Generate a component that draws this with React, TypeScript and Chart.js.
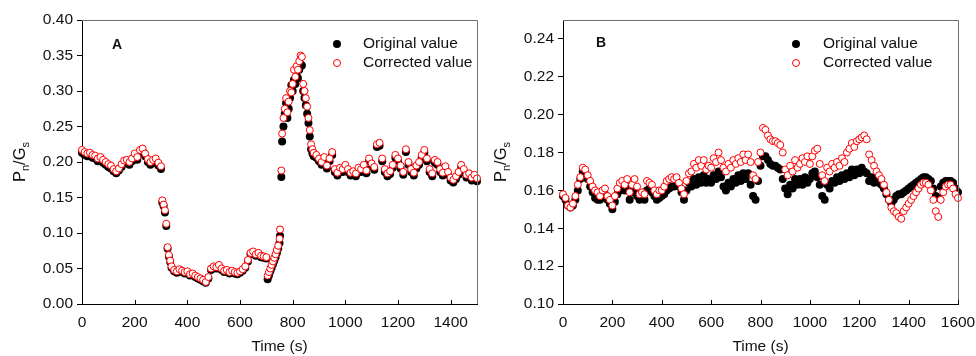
import React, { useEffect, useRef } from 'react';
import { Chart, registerables } from 'chart.js';

Chart.register(...registerables);

const FONT = '"Liberation Sans", Arial, Helvetica, sans-serif';
const TEXT = '#111';

// ---------- Panel A data ----------
const timeA = [
  0, 10, 20, 30, 40, 50, 60, 70, 80, 90,
  100, 110, 120, 130, 140, 150, 160, 170, 180, 190,
  200, 210, 220, 230, 240, 250, 260, 270, 280, 290,
  300, 305, 310, 315, 320, 325, 330, 335, 340, 350,
  360, 370, 380, 390, 400, 410, 420, 430, 440, 450,
  460, 470, 480, 490, 500, 510, 520, 530, 540, 550,
  560, 570, 580, 590, 600, 610, 620, 630, 640, 650,
  660, 670, 680, 690, 700, 705, 710, 715, 720, 725,
  730, 735, 740, 745, 750, 752, 757, 760, 765, 770,
  775, 780, 785, 790, 795, 800, 805, 810, 815, 820,
  825, 830, 835, 840, 845, 850, 855, 860, 865, 870,
  875, 880, 890, 900, 910, 920, 930, 940, 950, 960,
  970, 980, 990, 1000, 1010, 1020, 1030, 1040, 1050, 1060,
  1070, 1080, 1090, 1100, 1110, 1120, 1130, 1140, 1150, 1160,
  1170, 1180, 1190, 1200, 1210, 1220, 1230, 1240, 1250, 1260,
  1270, 1280, 1290, 1300, 1310, 1320, 1330, 1340, 1350, 1360,
  1370, 1380, 1390, 1400, 1410, 1420, 1430, 1440, 1450, 1460,
  1470, 1480, 1490, 1500,
];

const originalA = [
  0.213, 0.210, 0.208, 0.209, 0.206, 0.205, 0.201, 0.203, 0.199, 0.196,
  0.193, 0.191, 0.187, 0.184, 0.188, 0.193, 0.198, 0.199, 0.196, 0.201,
  0.208, 0.203, 0.213, 0.215, 0.208, 0.200, 0.196, 0.199, 0.201, 0.195,
  0.190, 0.143, 0.138, 0.129, 0.110, 0.078, 0.067, 0.059, 0.051, 0.046,
  0.044, 0.047, 0.045, 0.043, 0.044, 0.040, 0.041, 0.038, 0.036, 0.034,
  0.032, 0.030, 0.036, 0.048, 0.051, 0.050, 0.053, 0.048, 0.045, 0.046,
  0.043, 0.045, 0.043, 0.042, 0.044, 0.047, 0.051, 0.060, 0.070, 0.072,
  0.068, 0.070, 0.066, 0.065, 0.064, 0.035, 0.040, 0.046, 0.051, 0.056,
  0.061, 0.066, 0.072, 0.078, 0.086, 0.096, 0.179, 0.229, 0.250, 0.268,
  0.283, 0.262, 0.275, 0.290, 0.308, 0.300, 0.316, 0.310, 0.322, 0.318,
  0.330, 0.338, 0.336, 0.300, 0.290, 0.280, 0.268, 0.255, 0.236, 0.218,
  0.212, 0.208, 0.206, 0.201, 0.196, 0.203, 0.191, 0.201, 0.210, 0.186,
  0.181, 0.188, 0.186, 0.192, 0.186, 0.181, 0.183, 0.180, 0.188, 0.186,
  0.192, 0.184, 0.201, 0.194, 0.189, 0.221, 0.223, 0.201, 0.186, 0.180,
  0.183, 0.192, 0.206, 0.201, 0.191, 0.182, 0.214, 0.196, 0.186, 0.181,
  0.191, 0.196, 0.206, 0.213, 0.201, 0.186, 0.180, 0.199, 0.196, 0.186,
  0.181, 0.190, 0.182, 0.174, 0.171, 0.176, 0.182, 0.192, 0.186, 0.178,
  0.180, 0.174, 0.178, 0.173,
];

const correctedA = [
  0.217, 0.214, 0.212, 0.213, 0.210, 0.209, 0.205, 0.207, 0.203, 0.200,
  0.197, 0.195, 0.190, 0.187, 0.191, 0.197, 0.202, 0.203, 0.200, 0.205,
  0.212, 0.207, 0.217, 0.219, 0.212, 0.204, 0.200, 0.203, 0.205, 0.199,
  0.194, 0.146, 0.140, 0.132, 0.113, 0.080, 0.069, 0.061, 0.053, 0.048,
  0.046, 0.049, 0.047, 0.045, 0.046, 0.042, 0.043, 0.040, 0.038, 0.036,
  0.034, 0.031, 0.038, 0.050, 0.053, 0.052, 0.055, 0.050, 0.047, 0.048,
  0.045, 0.047, 0.045, 0.044, 0.046, 0.049, 0.053, 0.062, 0.072, 0.074,
  0.070, 0.072, 0.068, 0.067, 0.066, 0.040, 0.045, 0.050, 0.055, 0.060,
  0.065, 0.070, 0.076, 0.082, 0.092, 0.105, 0.188, 0.240, 0.262, 0.275,
  0.290, 0.270, 0.285, 0.300, 0.298, 0.310, 0.330, 0.320, 0.335, 0.330,
  0.342, 0.350, 0.348, 0.310, 0.300, 0.290, 0.278, 0.262, 0.245, 0.225,
  0.218, 0.213, 0.210, 0.205, 0.200, 0.207, 0.195, 0.205, 0.214, 0.190,
  0.185, 0.192, 0.190, 0.196, 0.190, 0.185, 0.187, 0.184, 0.192, 0.190,
  0.196, 0.188, 0.205, 0.198, 0.193, 0.225, 0.227, 0.205, 0.190, 0.184,
  0.187, 0.196, 0.210, 0.205, 0.195, 0.186, 0.218, 0.200, 0.190, 0.185,
  0.195, 0.200, 0.210, 0.217, 0.205, 0.190, 0.184, 0.203, 0.200, 0.190,
  0.185, 0.194, 0.186, 0.178, 0.175, 0.180, 0.186, 0.196, 0.190, 0.182,
  0.184, 0.178, 0.182, 0.177,
];

// ---------- Panel B data ----------
const timeB = [
  0, 10, 20, 30, 40, 50, 60, 70, 80, 90,
  100, 110, 120, 130, 140, 150, 160, 170, 180, 190,
  200, 210, 220, 230, 240, 250, 260, 270, 280, 290,
  300, 310, 320, 330, 340, 350, 360, 370, 380, 390,
  400, 410, 420, 430, 440, 450, 460, 470, 480, 490,
  500, 510, 520, 530, 540, 550, 560, 570, 580, 590,
  600, 610, 620, 630, 640, 650, 660, 670, 680, 690,
  700, 710, 720, 730, 740, 750, 760, 770, 780, 790,
  800, 810, 820, 830, 840, 850, 860, 870, 880, 890,
  900, 910, 920, 930, 940, 950, 960, 970, 980, 990,
  1000, 1010, 1020, 1030, 1040, 1050, 1060, 1070, 1080, 1090,
  1100, 1110, 1120, 1130, 1140, 1150, 1160, 1170, 1180, 1190,
  1200, 1210, 1220, 1230, 1240, 1250, 1260, 1270, 1280, 1290,
  1300, 1310, 1320, 1330, 1340, 1350, 1360, 1370, 1380, 1390,
  1400, 1410, 1420, 1430, 1440, 1450, 1460, 1470, 1480, 1490,
  1500, 1510, 1520, 1530, 1540, 1550, 1560, 1570, 1580, 1590,
  1600,
];

const originalB = [
  0.157, 0.155, 0.152, 0.151, 0.152, 0.155, 0.160, 0.166, 0.170, 0.169,
  0.166, 0.162, 0.159, 0.156, 0.155, 0.155, 0.157, 0.158, 0.155, 0.153,
  0.150, 0.154, 0.158, 0.160, 0.161, 0.160, 0.162, 0.155, 0.159, 0.161,
  0.157, 0.155, 0.156, 0.155, 0.160, 0.161, 0.159, 0.157, 0.155, 0.156,
  0.157, 0.158, 0.160, 0.161, 0.162, 0.162, 0.163, 0.162, 0.159, 0.155,
  0.160, 0.164, 0.162, 0.166, 0.163, 0.167, 0.164, 0.168, 0.164, 0.166,
  0.164, 0.168, 0.166, 0.170, 0.167, 0.162, 0.160, 0.164, 0.162, 0.166,
  0.164, 0.168, 0.165, 0.169, 0.166, 0.169, 0.163, 0.157, 0.155, 0.165,
  0.173, 0.178, 0.178, 0.176, 0.174, 0.173, 0.173, 0.172, 0.171, 0.166,
  0.161, 0.158, 0.163, 0.161, 0.166, 0.163, 0.166, 0.163, 0.167, 0.164,
  0.166, 0.169, 0.170, 0.167, 0.163, 0.157, 0.155, 0.163, 0.161, 0.165,
  0.164, 0.167, 0.165, 0.168, 0.166, 0.169, 0.167, 0.171, 0.168, 0.171,
  0.169, 0.172, 0.170, 0.169, 0.165, 0.167, 0.164, 0.167, 0.164, 0.163,
  0.161, 0.158, 0.155, 0.153, 0.155, 0.157, 0.158, 0.158, 0.159, 0.160,
  0.161, 0.162, 0.163, 0.164, 0.165, 0.166, 0.167, 0.167, 0.166, 0.165,
  0.161, 0.157, 0.156, 0.162, 0.164, 0.165, 0.165, 0.165, 0.164, 0.161,
  0.159,
];

const correctedB = [
  0.158, 0.156, 0.152, 0.151, 0.153, 0.157, 0.163, 0.167, 0.172, 0.171,
  0.168, 0.165, 0.162, 0.160, 0.159, 0.157, 0.160, 0.161, 0.157, 0.155,
  0.152, 0.157, 0.161, 0.164, 0.165, 0.163, 0.166, 0.159, 0.163, 0.166,
  0.162, 0.158, 0.159, 0.158, 0.165, 0.164, 0.163, 0.160, 0.158, 0.160,
  0.160, 0.162, 0.165, 0.166, 0.167, 0.166, 0.167, 0.164, 0.161, 0.158,
  0.165, 0.169, 0.170, 0.174, 0.172, 0.176, 0.173, 0.176, 0.171, 0.173,
  0.172, 0.177, 0.175, 0.180, 0.176, 0.172, 0.170, 0.174, 0.172, 0.176,
  0.174, 0.177, 0.175, 0.179, 0.176, 0.179, 0.175, 0.168, 0.166, 0.175,
  0.180, 0.193, 0.192, 0.189, 0.187, 0.186, 0.186, 0.185, 0.184, 0.180,
  0.171, 0.168, 0.173, 0.170, 0.176, 0.172, 0.174, 0.177, 0.175, 0.178,
  0.174, 0.178, 0.181, 0.182, 0.174, 0.168, 0.165, 0.172, 0.170, 0.174,
  0.172, 0.175, 0.173, 0.177, 0.175, 0.180, 0.182, 0.185, 0.183, 0.186,
  0.187, 0.188, 0.189, 0.187, 0.179, 0.176, 0.173, 0.170, 0.168, 0.166,
  0.163, 0.159, 0.155, 0.151, 0.149, 0.148, 0.146, 0.145, 0.149, 0.151,
  0.153, 0.155, 0.157, 0.159, 0.161, 0.163, 0.164, 0.164, 0.163, 0.160,
  0.155, 0.149, 0.146, 0.155, 0.159, 0.162, 0.163, 0.163, 0.161, 0.158,
  0.156,
];

const seriesNames = ['Original value', 'Corrected value'];
const xTitle = 'Time (s)';

type PanelCfg = {
  time: number[];
  orig: number[];
  corr: number[];
  xMax: number;
  xStep: number;
  yMin: number;
  yMax: number;
  yStep: number;
  yAxisWidth: number;
  padRight: number;
  label: string;
  labelX: number;
  labelY: number;
  legendMarkerX: number;
  legendTextX: number;
};

const cfgA: PanelCfg = {
  time: timeA, orig: originalA, corr: correctedA,
  xMax: 1500, xStep: 200, yMin: 0, yMax: 0.4, yStep: 0.05,
  yAxisWidth: 82, padRight: 11,
  label: 'A', labelX: 117, labelY: 45,
  legendMarkerX: 337, legendTextX: 363,
};

const cfgB: PanelCfg = {
  time: timeB, orig: originalB, corr: correctedB,
  xMax: 1600, xStep: 200, yMin: 0.1, yMax: 0.25, yStep: 0.02,
  yAxisWidth: 75, padRight: 18,
  label: 'B', labelX: 113, labelY: 43,
  legendMarkerX: 308, legendTextX: 335,
};

function buildChart(canvas: HTMLCanvasElement, cfg: PanelCfg) {
  const decor = {
    id: 'decor',
    afterDraw(chart: any) {
      const ctx = chart.ctx as CanvasRenderingContext2D;
      const a = chart.chartArea;
      const xs = chart.scales.x;
      ctx.save();
      // top and right frame lines
      ctx.strokeStyle = '#707070';
      ctx.lineWidth = 1;
      ctx.beginPath();
      ctx.moveTo(a.left, a.top + 0.5);
      ctx.lineTo(a.right + 0.5, a.top + 0.5);
      ctx.lineTo(a.right + 0.5, a.bottom);
      ctx.stroke();
      // inward x ticks
      ctx.strokeStyle = '#000';
      xs.ticks.forEach((t: any) => {
        const px = Math.round(xs.getPixelForValue(t.value)) + 0.5;
        ctx.beginPath();
        ctx.moveTo(px, a.bottom);
        ctx.lineTo(px, a.bottom - 4);
        ctx.stroke();
      });
      // x title
      ctx.fillStyle = TEXT;
      ctx.font = `15.5px ${FONT}`;
      ctx.textAlign = 'center';
      ctx.textBaseline = 'middle';
      ctx.fillText(xTitle, (a.left + a.right) / 2, 347);
      // y title with subscripts
      const main = `16.5px ${FONT}`;
      const sub = `11px ${FONT}`;
      const pieces: [string, string, number][] = [
        ['P', main, 0], ['n', sub, 4], ['/G', main, 0], ['s', sub, 4],
      ];
      let total = 0;
      pieces.forEach(([s, f]) => { ctx.font = f; total += ctx.measureText(s).width; });
      ctx.translate(a.left - 57, (a.top + a.bottom) / 2);
      ctx.rotate(-Math.PI / 2);
      ctx.textAlign = 'left';
      ctx.textBaseline = 'alphabetic';
      let cx = -total / 2;
      pieces.forEach(([s, f, dy]) => {
        ctx.font = f;
        ctx.fillText(s, cx, dy);
        cx += ctx.measureText(s).width;
      });
      ctx.setTransform(1, 0, 0, 1, 0, 0);
      // panel label
      ctx.font = `bold 14px ${FONT}`;
      ctx.textAlign = 'center';
      ctx.textBaseline = 'middle';
      ctx.fillText(cfg.label, cfg.labelX, cfg.labelY);
      // legend
      const rows = [44, 63];
      ctx.beginPath();
      ctx.arc(cfg.legendMarkerX, rows[0], 4, 0, Math.PI * 2);
      ctx.fillStyle = '#000';
      ctx.fill();
      ctx.beginPath();
      ctx.arc(cfg.legendMarkerX, rows[1], 3.5, 0, Math.PI * 2);
      ctx.fillStyle = '#fff';
      ctx.fill();
      ctx.strokeStyle = '#ff0000';
      ctx.stroke();
      ctx.fillStyle = TEXT;
      ctx.font = `15.5px ${FONT}`;
      ctx.textAlign = 'left';
      ctx.textBaseline = 'middle';
      ctx.fillText(seriesNames[0], cfg.legendTextX, rows[0]);
      ctx.fillText(seriesNames[1], cfg.legendTextX, rows[1]);
      ctx.restore();
    },
  };

  return new Chart(canvas, {
    type: 'scatter',
    data: {
      datasets: [
        {
          label: seriesNames[0],
          data: cfg.time.map((t, i) => ({ x: t, y: cfg.orig[i] })),
          pointRadius: 4,
          pointBackgroundColor: '#000',
          pointBorderColor: '#000',
          pointBorderWidth: 0,
          order: 2,
          clip: false as any,
        },
        {
          label: seriesNames[1],
          data: cfg.time.map((t, i) => ({ x: t, y: cfg.corr[i] })),
          pointRadius: 3.5,
          pointBackgroundColor: '#fff',
          pointBorderColor: '#ff0000',
          pointBorderWidth: 1,
          order: 1,
          clip: false as any,
        },
      ],
    },
    options: {
      responsive: false,
      animation: false,
      devicePixelRatio: 1,
      events: [],
      layout: { padding: { left: 0, top: 20, right: cfg.padRight, bottom: 0 } },
      plugins: { legend: { display: false }, tooltip: { enabled: false }, title: { display: false } },
      scales: {
        x: {
          type: 'linear',
          min: 0,
          max: cfg.xMax,
          grid: { display: false, drawTicks: false },
          border: { display: true, color: '#000', width: 1 },
          ticks: {
            stepSize: cfg.xStep,
            includeBounds: false,
            padding: 9,
            color: TEXT,
            font: { family: FONT, size: 15.5 },
            maxRotation: 0,
            autoSkip: false,
            callback: (v: any) => String(v),
          },
          afterFit: (s: any) => { s.height = 52; s.paddingLeft = 0; s.paddingRight = 0; },
        },
        y: {
          type: 'linear',
          min: cfg.yMin,
          max: cfg.yMax,
          grid: { display: true, drawOnChartArea: false, drawTicks: true, tickLength: 5, color: '#000' },
          border: { display: true, color: '#000', width: 1 },
          ticks: {
            stepSize: cfg.yStep,
            includeBounds: false,
            padding: 4,
            color: TEXT,
            font: { family: FONT, size: 15.5 },
            autoSkip: false,
            callback: (v: any) => Number(v).toFixed(2),
          },
          afterFit: (s: any) => { s.width = cfg.yAxisWidth; s.paddingTop = 0; s.paddingBottom = 0; },
        },
      },
    },
    plugins: [decor],
  } as any);
}

function Panel({ cfg }: { cfg: PanelCfg }) {
  const ref = useRef<HTMLCanvasElement>(null);
  useEffect(() => {
    const chart = buildChart(ref.current as HTMLCanvasElement, cfg);
    return () => chart.destroy();
  }, [cfg]);
  return (
    <canvas
      ref={ref}
      width={488}
      height={356}
      style={{ display: 'block', width: 488, height: 356 }}
    />
  );
}

export default function App() {
  return (
    <div
      style={{
        position: 'absolute', left: 0, top: 0, width: 976, height: 356,
        display: 'flex', background: '#fff',
      }}
    >
      <Panel cfg={cfgA} />
      <Panel cfg={cfgB} />
    </div>
  );
}
